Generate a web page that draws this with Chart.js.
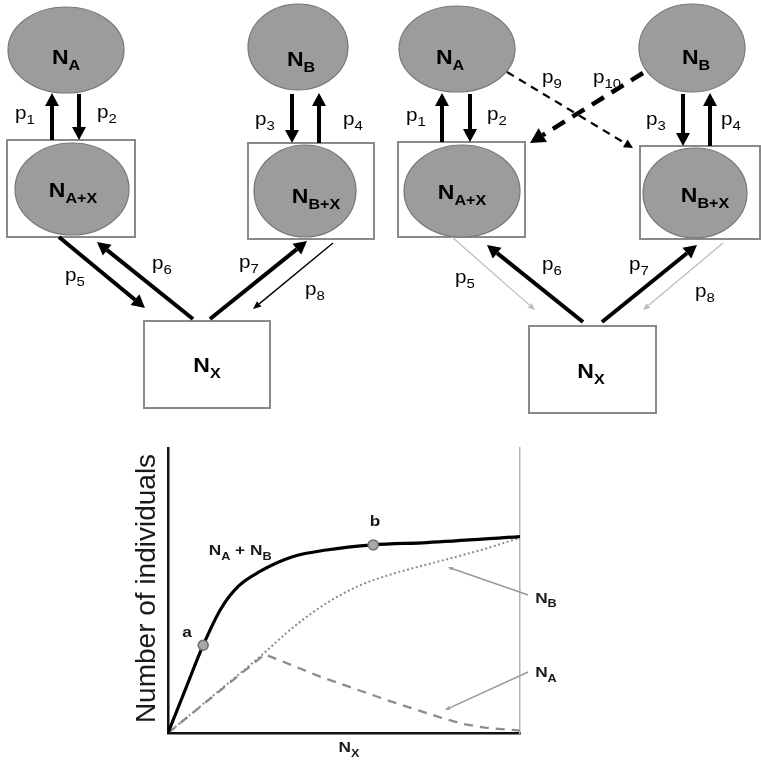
<!DOCTYPE html>
<html>
<head>
<meta charset="utf-8">
<script src="https://cdn.jsdelivr.net/npm/chart.js@4.4.1/dist/chart.umd.min.js"></script>
<style>
  html, body { margin: 0; padding: 0; background: #fff; }
  #wrap { position: relative; width: 761px; height: 760px; }
  #diagram { position: absolute; left: 0; top: 0; }
  #curves { position: absolute; left: 0; top: 420px; }
</style>
</head>
<body>
<div id="wrap">
  <canvas id="diagram" width="761" height="420"></canvas>
  <canvas id="curves" width="761" height="340"></canvas>
</div>
<script>
const FONT = "'Liberation Sans', Arial, sans-serif";
const STRETCH = 1.15; // the printed figure is a little wider than tall

// compartment diagrams, in diagram units
const ovalNames = ['A', 'A+X', 'B', 'B+X', 'A', 'A+X', 'B', 'B+X'];
const ovalX = [66, 72, 298, 305, 457, 462, 692, 695];
const ovalY = [50, 189, 47, 191, 49, 191, 48, 193];
const ovalRx = [58, 57, 50, 51, 58, 58, 53, 52];
const ovalRy = [43, 46, 43, 46, 43, 46, 44, 45];
const ovalTextX = [66, 73, 301, 316, 450, 462, 696, 705];
const ovalTextY = [57, 190, 59, 196, 57, 192, 57, 195];

const boxNames = ['', '', 'X', '', '', 'X'];
const boxLeft = [7, 248, 144, 398, 640, 529];
const boxTop = [140, 143, 321, 142, 146, 326];
const boxRight = [135, 374, 270, 525, 760, 656];
const boxBottom = [237, 239, 408, 237, 239, 413];
const boxTextX = [0, 0, 207, 0, 0, 591];
const boxTextY = [0, 0, 365, 0, 0, 371];

const flowNames = ['1', '2', '3', '4', '5', '6', '7', '8', '1', '2', '3', '4', '5', '6', '7', '8', '9', '10'];
const flowKind = ['bold', 'bold', 'bold', 'bold', 'bold', 'bold', 'bold', 'thin',
  'bold', 'bold', 'bold', 'bold', 'faint', 'bold', 'bold', 'faint', 'dash', 'dashBold'];
const flowFrom = [[52, 140], [79, 94], [292, 94], [319, 143], [59, 237], [193, 319], [210, 319], [333, 243],
  [442, 142], [470, 94], [683, 94], [710, 146], [452, 237], [583, 322], [602, 322], [723, 243], [507, 72], [643, 73]];
const flowTo = [[52, 93], [79, 140], [292, 143], [319, 93], [145, 308], [97, 242], [307, 241], [253, 309],
  [442, 93], [470, 142], [683, 146], [710, 93], [535, 310], [487, 245], [697, 245], [643, 310], [633, 148], [530, 143]];
const flowTextX = [25, 107, 265, 353, 75, 162, 249, 315, 416, 497, 656, 731, 465, 552, 639, 705, 552, 607];
const flowTextY = [116, 115, 122, 122, 278, 266, 265, 292, 118, 117, 122, 122, 280, 267, 267, 294, 80, 80];

// bottom plot, arbitrary units (0-100 on both axes)
const sumX = [0, 5, 10, 15, 20, 26, 35.6, 45, 58.3, 73.5, 100];
const sumY = [0, 15.5, 30.8, 43.5, 51.5, 56.6, 61.9, 64.2, 66.0, 66.8, 68.9];
const nbX = [0, 13, 26.5, 35.6, 45.1, 54.5, 64, 73.5, 83, 92.4, 100];
const nbY = [0, 13.3, 27.2, 37.1, 45.6, 51.8, 55.9, 59.1, 62.2, 65.5, 68.6];
const naX = [0, 27.5, 43.2, 62.1, 72, 78, 84, 90, 100];
const naY = [0, 27.6, 19.8, 11.6, 7.6, 5.2, 3.1, 1.9, 0.8];
const markNames = ['a', 'b'];
const markX = [10, 58.3];
const markY = [30.8, 66.0];
const markTextX = [5.4, 58.8];
const markTextY = [35.1, 74.0];
const curveNames = ['B', 'A'];
const curveTextX = [104.3, 104.3];
const curveTextY = [47.4, 21.4];
const pointerFrom = [[102.3, 48.4], [102.3, 21.4]];
const pointerTo = [[79.5, 58.2], [78.7, 8.1]];

const arrowStyles = {
  bold: { color: '#000', width: 4, head: 13, half: 7, dash: [] },
  thin: { color: '#000', width: 1.4, head: 8, half: 3.5, dash: [] },
  faint: { color: '#bdbdbd', width: 1.3, head: 7, half: 3, dash: [] },
  dash: { color: '#000', width: 2.2, head: 9, half: 4.5, dash: [8, 6] },
  dashBold: { color: '#000', width: 4.5, head: 15, half: 8, dash: [14, 9] }
};

const toPoints = (xs, ys) => xs.map((v, i) => ({ x: v, y: ys[i] }));

function drawRich(ctx, parts, x, baseline, size, align, weight) {
  const subSize = Math.round(size * 0.72);
  const w = weight || 'bold';
  let total = 0;
  const widths = parts.map(([t, sub]) => {
    ctx.font = `${w} ${sub ? subSize : size}px ${FONT}`;
    const width = ctx.measureText(t).width * STRETCH;
    total += width;
    return width;
  });
  let cx = align === 'left' ? x : x - total / 2;
  ctx.textAlign = 'left';
  ctx.textBaseline = 'alphabetic';
  parts.forEach(([t, sub], i) => {
    ctx.save();
    ctx.font = `${w} ${sub ? subSize : size}px ${FONT}`;
    ctx.translate(cx, sub ? baseline + size * 0.3 : baseline);
    ctx.scale(STRETCH, 1);
    ctx.fillText(t, 0, 0);
    ctx.restore();
    cx += widths[i];
  });
}

function drawArrow(ctx, x1, y1, x2, y2, st) {
  const ang = Math.atan2(y2 - y1, x2 - x1);
  const bx = x2 - st.head * Math.cos(ang);
  const by = y2 - st.head * Math.sin(ang);
  ctx.strokeStyle = st.color;
  ctx.lineWidth = st.width;
  ctx.setLineDash(st.dash);
  ctx.beginPath();
  ctx.moveTo(x1, y1);
  ctx.lineTo(bx, by);
  ctx.stroke();
  ctx.setLineDash([]);
  ctx.fillStyle = st.color;
  ctx.beginPath();
  ctx.moveTo(x2, y2);
  ctx.lineTo(bx + st.half * Math.sin(ang), by - st.half * Math.cos(ang));
  ctx.lineTo(bx - st.half * Math.sin(ang), by + st.half * Math.cos(ang));
  ctx.closePath();
  ctx.fill();
}

const diagramPainter = {
  id: 'diagramPainter',
  afterDatasetsDraw(chart) {
    const { ctx, scales: { x, y } } = chart;
    const px = v => x.getPixelForValue(v);
    const py = v => y.getPixelForValue(v);
    ctx.save();

    boxLeft.forEach((l, i) => {
      ctx.strokeStyle = '#8a8a8a';
      ctx.lineWidth = 2;
      ctx.strokeRect(px(l), py(boxTop[i]), px(boxRight[i]) - px(l), py(boxBottom[i]) - py(boxTop[i]));
    });

    ovalX.forEach((cx, i) => {
      ctx.beginPath();
      ctx.ellipse(px(cx), py(ovalY[i]), px(cx + ovalRx[i]) - px(cx),
        Math.abs(py(ovalY[i] + ovalRy[i]) - py(ovalY[i])), 0, 0, Math.PI * 2);
      ctx.fillStyle = '#9c9c9c';
      ctx.fill();
      ctx.strokeStyle = '#777';
      ctx.lineWidth = 1.2;
      ctx.stroke();
    });

    flowFrom.forEach((f, i) => {
      drawArrow(ctx, px(f[0]), py(f[1]), px(flowTo[i][0]), py(flowTo[i][1]), arrowStyles[flowKind[i]]);
    });

    ctx.fillStyle = '#000';
    ovalNames.forEach((n, i) => {
      drawRich(ctx, [['N', false], [n, true]], px(ovalTextX[i]), py(ovalTextY[i]) + 7, 20, 'center');
    });
    boxNames.forEach((n, i) => {
      if (!n) return;
      drawRich(ctx, [['N', false], [n, true]], px(boxTextX[i]), py(boxTextY[i]) + 7, 20, 'center');
    });
    flowNames.forEach((n, i) => {
      drawRich(ctx, [['p', false], [n, true]], px(flowTextX[i]), py(flowTextY[i]) + 3, 18, 'center', 'normal');
    });
    ctx.restore();
  }
};

new Chart(document.getElementById('diagram'), {
  type: 'scatter',
  data: {
    datasets: [{ data: toPoints(ovalX, ovalY), pointRadius: 0 }]
  },
  options: {
    responsive: false,
    animation: false,
    devicePixelRatio: 1,
    layout: { padding: 0 },
    scales: {
      x: { type: 'linear', min: 0, max: 761, display: false },
      y: { type: 'linear', min: 0, max: 420, reverse: true, display: false }
    },
    plugins: { legend: { display: false }, tooltip: { enabled: false } }
  },
  plugins: [diagramPainter]
});

const curveNotes = {
  id: 'curveNotes',
  afterDraw(chart) {
    const { ctx, chartArea, scales: { x, y } } = chart;
    ctx.save();
    ctx.fillStyle = '#1a1a1a';

    // y axis title
    ctx.save();
    ctx.translate(chartArea.left - 13, (chartArea.top + chartArea.bottom) / 2 - 2);
    ctx.rotate(-Math.PI / 2);
    ctx.font = `28px ${FONT}`;
    ctx.textAlign = 'center';
    ctx.textBaseline = 'alphabetic';
    ctx.fillText('Number of individuals', 0, 0);
    ctx.restore();

    // x axis title
    drawRich(ctx, [['N', false], ['X', true]], (chartArea.left + chartArea.right) / 2 + 5, chartArea.bottom + 19, 15, 'center');

    markNames.forEach((m, i) => {
      drawRich(ctx, [[m, false]], x.getPixelForValue(markTextX[i]), y.getPixelForValue(markTextY[i]) + 4, 15, 'center');
    });

    drawRich(ctx, [['N', false], ['A', true], [' + N', false], ['B', true]],
      x.getPixelForValue(20.5), y.getPixelForValue(64.2) + 5, 15, 'center');

    pointerFrom.forEach((f, i) => {
      drawArrow(ctx, x.getPixelForValue(f[0]), y.getPixelForValue(f[1]),
        x.getPixelForValue(pointerTo[i][0]), y.getPixelForValue(pointerTo[i][1]),
        { color: '#999', width: 1.5, head: 5, half: 2, dash: [] });
    });

    ctx.fillStyle = '#1a1a1a';
    curveNames.forEach((n, i) => {
      drawRich(ctx, [['N', false], [n, true]], x.getPixelForValue(curveTextX[i]), y.getPixelForValue(curveTextY[i]) + 5, 15, 'left');
    });
    ctx.restore();
  }
};

const hiddenAxis = {
  type: 'linear', min: 0, max: 100,
  grid: { display: false, drawTicks: false },
  ticks: { display: false }
};

new Chart(document.getElementById('curves'), {
  type: 'scatter',
  data: {
    datasets: [
      {
        label: 'states',
        data: toPoints(markX, markY),
        showLine: false,
        pointRadius: 5,
        pointBackgroundColor: '#a8a8a8',
        pointBorderColor: '#707070',
        pointBorderWidth: 1.5
      },
      {
        label: 'NA + NB',
        data: toPoints(sumX, sumY),
        showLine: true,
        borderColor: '#000',
        borderWidth: 3.2,
        pointRadius: 0,
        cubicInterpolationMode: 'monotone'
      },
      {
        label: 'NB',
        data: toPoints(nbX, nbY),
        showLine: true,
        borderColor: '#8c8c8c',
        borderWidth: 2,
        borderDash: [2, 2.5],
        pointRadius: 0,
        cubicInterpolationMode: 'monotone'
      },
      {
        label: 'NA',
        data: toPoints(naX, naY),
        showLine: true,
        borderColor: '#8c8c8c',
        borderWidth: 2.3,
        borderDash: [9, 7],
        pointRadius: 0,
        tension: 0
      }
    ]
  },
  options: {
    responsive: false,
    animation: false,
    devicePixelRatio: 1,
    layout: { padding: { left: 168, right: 241, top: 28, bottom: 27 } },
    scales: {
      x: { ...hiddenAxis, border: { color: '#111', width: 2.5 } },
      y: { ...hiddenAxis, border: { color: '#111', width: 2.5 } },
      y2: { ...hiddenAxis, position: 'right', border: { color: '#b5b5b5', width: 1.5 } }
    },
    plugins: { legend: { display: false }, tooltip: { enabled: false } }
  },
  plugins: [curveNotes]
});
</script>
</body>
</html>
